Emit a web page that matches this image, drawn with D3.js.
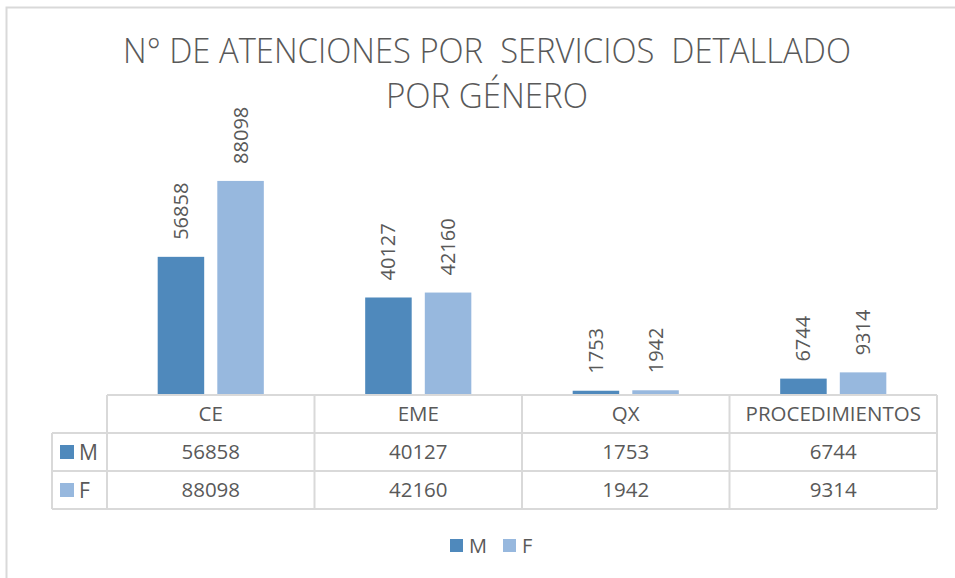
<!DOCTYPE html>
<html>
<head>
<meta charset="utf-8">
<script src="https://cdn.jsdelivr.net/npm/d3@7"></script>
<style>
    body { margin: 0; background: #fff; }
    svg text { font-family: "Open Sans", "Noto Sans", sans-serif; fill: #595959; }
</style>
</head>
<body>
<div id="chart"></div>
<script>
// chart data
const categories = ['CE', 'EME', 'QX', 'PROCEDIMIENTOS'];
const seriesNames = ['M', 'F'];
const valuesM = [56858, 40127, 1753, 6744];
const valuesF = [88098, 42160, 1942, 9314];
const titleLines = ['N° DE ATENCIONES POR  SERVICIOS  DETALLADO', 'POR GÉNERO'];

const colors = { M: '#4f89bc', F: '#97b8de' };
const lineColor = '#d9d9d9';

const width = 955, height = 578;
const svg = d3.select('#chart').append('svg')
    .attr('width', width)
    .attr('height', height);

// outer frame (only left and top edges are visible in the picture)
svg.append('path')
    .attr('d', 'M6.5,578 L6.5,7.5 L955,7.5')
    .attr('fill', 'none')
    .attr('stroke', lineColor)
    .attr('stroke-width', 2);

// title
svg.selectAll('.title')
    .data(titleLines)
    .enter().append('text')
    .attr('class', 'title')
    .attr('x', 487)
    .attr('y', (d, i) => 63 + i * 45)
    .attr('text-anchor', 'middle')
    .attr('font-size', 34)
    .attr('textLength', (d, i) => i === 0 ? 728 : 202)
    .attr('lengthAdjust', 'spacingAndGlyphs')
    .style('white-space', 'pre')
    .style('font-weight', 300)
    .text(d => d);

// scales
const x = d3.scaleBand()
    .domain(categories)
    .range([107, 937]);

const xInner = d3.scaleBand()
    .domain(seriesNames)
    .range([0, x.bandwidth()])
    .paddingInner(0.22)
    .paddingOuter(0.85);

const y = d3.scaleLinear()
    .domain([0, 100000])
    .range([395, 152]);

const rows = categories.map((c, i) => ({ cat: c, M: valuesM[i], F: valuesF[i] }));

// bars
const groups = svg.selectAll('.group')
    .data(rows)
    .enter().append('g')
    .attr('class', 'group')
    .attr('transform', d => 'translate(' + x(d.cat) + ',0)');

groups.selectAll('rect')
    .data(d => seriesNames.map(s => ({ s: s, v: d[s] })))
    .enter().append('rect')
    .attr('x', d => xInner(d.s))
    .attr('width', xInner.bandwidth())
    .attr('y', d => y(d.v))
    .attr('height', d => y(0) - y(d.v))
    .attr('fill', d => colors[d.s]);

// rotated data labels
groups.selectAll('.label')
    .data(d => seriesNames.map(s => ({ s: s, v: d[s] })))
    .enter().append('text')
    .attr('class', 'label')
    .attr('transform', d => 'translate(' + (xInner(d.s) + xInner.bandwidth() / 2 + 7) + ',' + (y(d.v) - 17) + ') rotate(-90)')
    .attr('font-size', 20)
    .text(d => d.v);

// data table
const rowTop = 395, rowH = [38, 38, 38];
const rowY = [rowTop, rowTop + rowH[0], rowTop + rowH[0] + rowH[1], rowTop + rowH[0] + rowH[1] + rowH[2]];
const keyLeft = 52;

const table = svg.append('g')
    .attr('stroke', lineColor)
    .attr('stroke-width', 2)
    .attr('fill', 'none');

// horizontal lines
table.append('line').attr('x1', 107).attr('x2', 937).attr('y1', rowY[0]).attr('y2', rowY[0]);
[1, 2, 3].forEach(i => {
    table.append('line').attr('x1', keyLeft).attr('x2', 937).attr('y1', rowY[i]).attr('y2', rowY[i]);
});
// vertical lines
table.selectAll('.vline')
    .data(categories.concat(['end']))
    .enter().append('line')
    .attr('x1', (d, i) => i < categories.length ? x(d) : x.range()[1])
    .attr('x2', (d, i) => i < categories.length ? x(d) : x.range()[1])
    .attr('y1', rowY[0])
    .attr('y2', rowY[3]);
table.append('line').attr('x1', keyLeft).attr('x2', keyLeft).attr('y1', rowY[1]).attr('y2', rowY[3]);

// header
svg.selectAll('.head')
    .data(categories)
    .enter().append('text')
    .attr('x', d => x(d) + x.bandwidth() / 2)
    .attr('y', (rowY[0] + rowY[1]) / 2 + 7)
    .attr('text-anchor', 'middle')
    .attr('font-size', 20.5)
    .text(d => d);

// value rows
const tableData = [valuesM, valuesF];
tableData.forEach((vals, r) => {
    svg.selectAll('.cell' + r)
        .data(vals)
        .enter().append('text')
        .attr('x', (d, i) => x(categories[i]) + x.bandwidth() / 2)
        .attr('y', (rowY[r + 1] + rowY[r + 2]) / 2 + 7)
        .attr('text-anchor', 'middle')
        .attr('font-size', 20.5)
        .text(d => d);

    svg.append('rect')
        .attr('x', 60)
        .attr('y', (rowY[r + 1] + rowY[r + 2]) / 2 - 7)
        .attr('width', 14)
        .attr('height', 14)
        .attr('fill', colors[seriesNames[r]]);
    svg.append('text')
        .attr('x', 79)
        .attr('y', (rowY[r + 1] + rowY[r + 2]) / 2 + 8)
        .attr('font-size', 21)
        .text(seriesNames[r]);
});

// legend
const legend = svg.selectAll('.legend')
    .data(seriesNames)
    .enter().append('g')
    .attr('transform', (d, i) => 'translate(' + (450 + i * 53) + ',539)');
legend.append('rect')
    .attr('width', 13)
    .attr('height', 13)
    .attr('fill', d => colors[d]);
legend.append('text')
    .attr('x', 19)
    .attr('y', 14)
    .attr('font-size', 20)
    .text(d => d);
</script>
</body>
</html>
